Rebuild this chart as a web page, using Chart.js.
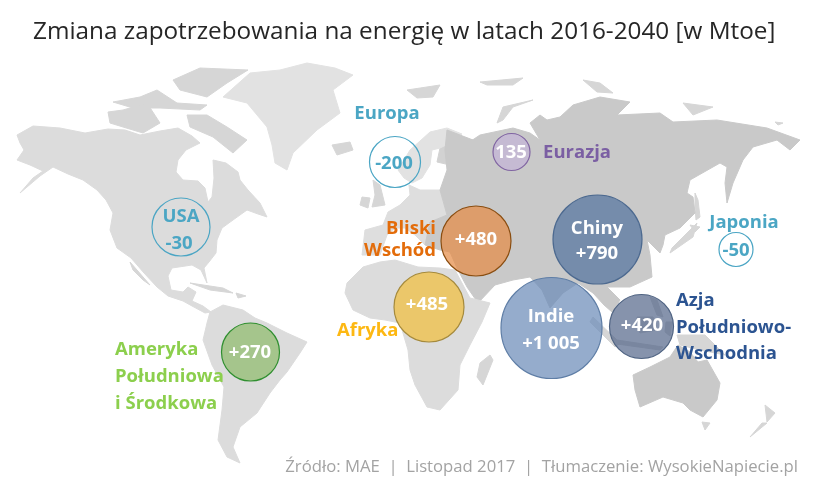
<!DOCTYPE html>
<html>
<head>
<meta charset="utf-8">
<script src="https://cdn.jsdelivr.net/npm/chart.js@4/dist/chart.umd.min.js"></script>
<style>
  html, body { margin: 0; padding: 0; background: #fff; }
  canvas { display: block; }
</style>
</head>
<body>
<canvas id="map" width="815" height="499"></canvas>
<script>
// Demand change per region, Mtoe
const regions = ['USA', 'Europa', 'Eurazja', 'Bliski Wschód', 'Chiny', 'Indie', 'Afryka', 'Azja Południowo-Wschodnia', 'Ameryka Południowa i Środkowa', 'Japonia'];
const demandChange = [-30, -200, 135, 480, 790, 1005, 485, 420, 270, -50];
const bubbleX = [181, 395, 511.5, 476, 597.5, 551.5, 429, 641.5, 250.5, 736];
const bubbleY = [227, 162, 152, 241, 239.5, 328, 307, 326.5, 352, 249.5];
const bubbleR = [29, 25.5, 18.5, 35, 44.5, 50.5, 35, 32, 29, 17];
const bubbleFill = ['rgba(255,255,255,0)', 'rgba(255,255,255,0)', 'rgba(196,182,214,0.8)', 'rgba(228,140,70,0.72)', 'rgba(84,116,160,0.72)', 'rgba(108,140,184,0.72)', 'rgba(238,194,80,0.82)', 'rgba(76,96,132,0.68)', 'rgba(130,182,90,0.62)', 'rgba(255,255,255,0)'];
const bubbleStroke = ['#4aa5c4', '#4aa5c4', '#8064a2', '#8a4d10', '#4d6a90', '#5f7ea6', '#a58a3c', '#4f6382', '#2f8f2f', '#4aa5c4'];

// Land outlines, map units = picture pixels
const northAmerica = [[17,135],[33,126],[60,128],[85,133],[108,129],[125,130],[140,135],[160,131],[178,128],[192,136],[200,143],[186,150],[178,160],[176,172],[183,180],[198,181],[205,188],[208,202],[212,197],[214,178],[213,160],[226,163],[238,172],[240,180],[248,190],[260,203],[267,217],[258,214],[247,210],[233,220],[222,228],[217,240],[216,253],[209,262],[204,268],[207,283],[201,270],[192,265],[172,268],[168,276],[171,290],[183,292],[188,287],[196,292],[192,301],[203,306],[211,312],[205,313],[192,306],[183,301],[168,296],[157,287],[144,273],[131,258],[117,248],[110,230],[113,213],[106,200],[97,190],[83,180],[68,174],[53,167],[40,176],[20,193],[33,178],[43,171],[30,165],[17,160],[24,150],[20,143]];
const southAmerica = [[210,312],[223,305],[243,310],[255,318],[267,323],[287,333],[307,342],[300,353],[287,372],[280,380],[270,393],[257,413],[240,427],[233,447],[240,463],[227,457],[218,440],[222,410],[224,387],[212,365],[203,340],[207,323]];
const greenland = [[223,97],[250,73],[280,70],[307,63],[335,68],[353,75],[333,90],[340,113],[317,130],[293,153],[287,170],[275,163],[272,145],[267,127],[247,103]];
const africa = [[347,283],[363,267],[380,262],[395,260],[418,267],[440,268],[455,270],[463,285],[470,298],[490,303],[482,322],[470,345],[460,365],[458,390],[440,410],[427,407],[415,385],[410,370],[408,350],[400,323],[385,320],[370,318],[353,310],[345,293]];
const eurasia = [[447,130],[473,140],[462,147],[480,135],[513,128],[530,133],[540,140],[530,123],[540,115],[547,120],[560,117],[573,105],[600,97],[630,102],[617,115],[660,113],[673,122],[717,120],[767,128],[800,140],[790,150],[777,140],[753,147],[743,160],[733,183],[727,203],[725,183],[727,167],[720,163],[690,180],[687,193],[693,197],[695,213],[680,228],[665,235],[663,245],[660,253],[647,240],[650,255],[652,277],[630,287],[607,287],[620,300],[612,312],[604,305],[593,293],[578,283],[563,293],[550,308],[542,290],[530,277],[513,280],[495,285],[478,303],[467,287],[457,268],[450,252],[440,250],[425,245],[430,222],[447,215],[440,190],[447,170],[445,150]];
const europe = [[365,230],[383,225],[388,212],[400,205],[410,195],[409,185],[420,190],[440,190],[447,215],[430,222],[425,245],[415,235],[405,228],[395,228],[387,235],[380,255],[362,255]];
const scandinavia = [[398,170],[410,150],[430,132],[447,128],[462,134],[452,142],[440,148],[432,150],[430,165],[422,178],[412,183],[404,178]];
const finland = [[437,162],[440,148],[452,142],[458,150],[450,165]];
const mongolia = [[640,203],[667,197],[680,213],[663,227],[640,220]];
const centralAsia = [[520,240],[540,235],[545,255],[525,260]];
const australia = [[633,375],[650,367],[670,357],[678,345],[690,352],[698,362],[707,360],[720,383],[717,400],[703,417],[690,410],[683,403],[663,397],[640,407],[635,390]];
const smallIslands = [
  [[187,115],[207,115],[227,127],[247,140],[233,153],[213,137],[190,127]],
  [[173,80],[200,68],[248,70],[227,83],[207,97],[180,90]],
  [[108,112],[123,110],[147,103],[160,123],[143,133],[123,127],[110,123]],
  [[113,102],[140,97],[157,90],[177,103],[207,105],[200,110],[160,108],[133,108]],
  [[332,145],[350,142],[353,150],[337,155]],
  [[373,180],[380,185],[385,205],[372,207],[375,195]],
  [[362,197],[370,198],[368,208],[360,205]],
  [[490,355],[493,360],[483,385],[477,377],[480,363]],
  [[702,422],[710,423],[705,430]],
  [[765,405],[775,413],[767,422]],
  [[762,423],[767,423],[750,437]],
  [[677,335],[705,335],[725,355],[700,350],[680,345]],
  [[593,317],[620,343],[615,347],[590,322]],
  [[617,340],[663,347],[660,350],[617,344]],
  [[637,317],[653,317],[657,330],[640,333]],
  [[650,297],[657,300],[663,317],[657,315]],
  [[666,322],[672,322],[670,336],[665,332]],
  [[697,223],[693,237],[670,253],[672,248],[690,230]],
  [[690,225],[700,227],[695,232]],
  [[695,193],[698,200],[700,217],[696,220],[695,207]],
  [[497,123],[503,107],[533,100],[513,107],[503,120]],
  [[407,90],[440,85],[433,97],[417,98]],
  [[480,82],[523,78],[513,85],[487,85]],
  [[583,80],[600,83],[613,93],[597,92]],
  [[683,103],[713,107],[693,115]],
  [[775,122],[783,123],[778,125]],
  [[190,283],[223,288],[233,293],[210,290]],
  [[236,293],[246,296],[238,298]],
  [[130,262],[137,270],[150,285],[143,280],[133,270]]
];
const caspian = [[510,217],[517,223],[513,237],[508,227]];

// Labels: text, x, y, colour, alignment
const labelTexts = ['Europa', 'USA', '-30', '-200', '135', 'Eurazja', 'Bliski', 'Wschód', '+480', 'Chiny', '+790', 'Japonia', '-50', 'Indie', '+1 005', '+420', 'Azja', 'Południowo-', 'Wschodnia', 'Afryka', '+485', 'Ameryka', 'Południowa', 'i Środkowa', '+270'];
const labelX = [387, 181, 179, 394, 511, 577, 436, 436, 476, 597, 597, 744, 736, 551, 551, 642, 676, 676, 676, 337, 427, 115, 115, 115, 250];
const labelY = [114, 217, 244, 164, 153, 153, 229, 251, 240, 229, 254, 223, 251, 317, 344, 326, 301, 328, 354, 331, 305, 350, 377, 404, 353];
const labelColor = ['#4ba6c4', '#4ba6c4', '#4ba6c4', '#4ba6c4', '#fff', '#7b5fa3', '#e36c0a', '#e36c0a', '#fff', '#fff', '#fff', '#4ba6c4', '#4ba6c4', '#fff', '#fff', '#fff', '#2c5491', '#2c5491', '#2c5491', '#fdb813', '#fff', '#8ccf4d', '#8ccf4d', '#8ccf4d', '#fff'];
const labelAlign = ['center', 'center', 'center', 'center', 'center', 'center', 'right', 'right', 'center', 'center', 'center', 'center', 'center', 'center', 'center', 'center', 'left', 'left', 'left', 'left', 'center', 'left', 'left', 'left', 'center'];

const titleText = 'Zmiana zapotrzebowania na energię w latach 2016-2040 [w Mtoe]';
const sourceText = 'Źródło: MAE  |  Listopad 2017  |  Tłumaczenie: WysokieNapiecie.pl';

function landDataset(outline, color) {
    const points = outline.concat([outline[0]]).map(p => ({ x: p[0], y: p[1] }));
    return {
        type: 'scatter',
        data: points,
        showLine: true,
        fill: 'shape',
        backgroundColor: color,
        borderColor: color,
        borderWidth: 1,
        pointRadius: 0,
        pointHoverRadius: 0,
        tension: 0,
        order: 2
    };
}

const landSets = [
    landDataset(northAmerica, '#dcdcdc'),
    landDataset(southAmerica, '#dcdcdc'),
    landDataset(greenland, '#e2e2e2'),
    landDataset(africa, '#dcdcdc'),
    landDataset(eurasia, '#c9c9c9'),
    landDataset(europe, '#dedede'),
    landDataset(scandinavia, '#e2e2e2'),
    landDataset(finland, '#d2d2d2'),
    landDataset(mongolia, '#d4d4d4'),
    landDataset(centralAsia, '#d4d4d4'),
    landDataset(australia, '#c9c9c9'),
    landDataset(caspian, '#f2f2f2')
];
smallIslands.forEach(island => landSets.push(landDataset(island, '#d6d6d6')));

// Text over the bubbles, placed through the same scales as the map
const textPlugin = {
    id: 'mapText',
    afterDatasetsDraw(chart) {
        const ctx = chart.ctx;
        const xs = chart.scales.x;
        const ys = chart.scales.y;
        ctx.save();
        ctx.textBaseline = 'middle';

        ctx.fillStyle = '#262626';
        ctx.textAlign = 'left';
        ctx.font = '400 24.3px "Open Sans"';
        ctx.fillText(titleText, xs.getPixelForValue(33), ys.getPixelForValue(32));

        labelTexts.forEach((text, i) => {
            ctx.fillStyle = labelColor[i];
            ctx.textAlign = labelAlign[i];
            ctx.font = '700 18.5px "Open Sans"';
            ctx.fillText(text, xs.getPixelForValue(labelX[i]), ys.getPixelForValue(labelY[i]));
        });

        ctx.fillStyle = '#a3a3a3';
        ctx.textAlign = 'right';
        ctx.font = '400 16.7px "Open Sans"';
        ctx.fillText(sourceText, xs.getPixelForValue(798), ys.getPixelForValue(467));
        ctx.restore();
    }
};

new Chart(document.getElementById('map'), {
    type: 'bubble',
    data: {
        labels: regions,
        datasets: [{
            label: 'Zmiana zapotrzebowania',
            data: demandChange.map((v, i) => ({ x: bubbleX[i], y: bubbleY[i], r: bubbleR[i], v: v })),
            backgroundColor: bubbleFill,
            borderColor: bubbleStroke,
            borderWidth: 1.2,
            hoverRadius: 0,
            order: 1
        }].concat(landSets)
    },
    options: {
        responsive: false,
        animation: false,
        layout: { padding: 0, autoPadding: false },
        plugins: { legend: { display: false }, tooltip: { enabled: false }, title: { display: false } },
        scales: {
            x: { type: 'linear', min: 0, max: 815, display: false },
            y: { type: 'linear', min: 0, max: 499, reverse: true, display: false }
        }
    },
    plugins: [textPlugin]
});
</script>
</body>
</html>
